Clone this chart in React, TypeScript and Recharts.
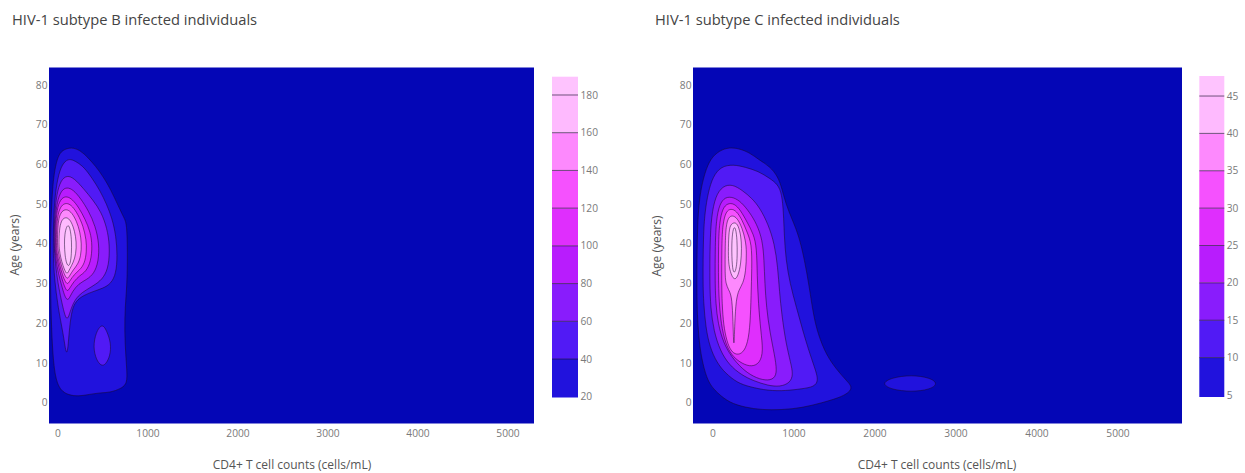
import React from 'react';
import { ScatterChart, Scatter, XAxis, YAxis, CartesianGrid, ReferenceArea, ReferenceLine } from 'recharts';

// Plotly3-like fill colours: background band, then one colour per contour band
const bandColors = ['#0406b6', '#2112dd', '#511af5', '#891cfc', '#b81cfd', '#df2efd', '#f551fe', '#fd89fd', '#febafe', '#fec3fe'];
const lineColor = 'rgba(25,10,45,0.75)';

const subtypeBLevels = [20, 40, 60, 80, 100, 120, 140, 160, 180];
const subtypeCLevels = [5, 10, 15, 20, 25, 30, 35, 40, 45];
const bColorbarRange = [19.6, 189.7];
const cColorbarRange = [4.73, 47.68];

const ageTicks = [0, 10, 20, 30, 40, 50, 60, 70, 80];
const cd4Ticks = [0, 1000, 2000, 3000, 4000, 5000];
const ageDomain = [-5.24, 84.41];
const bCd4Domain = [-100, 5289];
const cCd4Domain = [-247, 5790];

// ---- Subtype B contour outlines: [CD4 count, age] ----
const bL20 = [[-80, 45], [-62, 54], [-35, 59], [0, 62], [45, 63.6], [150, 64.4], [250, 63.5], [330, 61.8], [420, 59.5], [500, 57], [590, 53.5], [670, 49.5], [735, 46.5], [765, 45], [772, 38], [768, 30], [745, 24], [740, 18], [752, 12], [770, 7], [760, 4.5], [690, 3.5], [590, 2.6], [470, 2.5], [350, 2.1], [230, 1.6], [120, 1.9], [30, 3], [-30, 6], [-62, 13], [-80, 24], [-86, 35]];
const bL40 = [[-52, 40], [-50, 47], [-25, 54], [20, 58.8], [80, 61], [140, 61.4], [210, 60.6], [290, 59.3], [380, 56.5], [467, 53.4], [540, 50], [600, 46.5], [645, 42], [660, 37], [645, 32.5], [590, 30], [500, 28.8], [390, 28], [280, 27], [200, 25.6], [155, 23.5], [128, 19], [112, 14], [98, 12.3], [82, 13.5], [60, 17], [30, 20.5], [-5, 25], [-35, 30.5], [-50, 35]];
const bIsland40 = [[490, 20], [540, 18.2], [590, 15], [580, 11.8], [530, 9.6], [480, 9.2], [425, 10.8], [390, 14], [420, 17.7]];
const bL60 = [[-45, 40], [-40, 47], [-15, 52.5], [30, 56], [100, 57.3], [180, 56.5], [280, 54], [390, 51], [480, 48], [545, 44], [575, 39.5], [565, 34.5], [510, 31.5], [420, 29.8], [320, 28.5], [220, 27], [155, 24.5], [118, 21.5], [95, 21], [70, 22.5], [35, 26], [0, 30], [-30, 35]];
const bL80 = [[-38, 40], [-32, 46.5], [-10, 50.5], [35, 53.5], [100, 54.3], [170, 53.6], [250, 51.5], [340, 48.3], [415, 44.5], [458, 40], [450, 35.5], [400, 32.5], [320, 31], [230, 30], [160, 28], [125, 26.2], [100, 25.8], [72, 27], [40, 29.5], [5, 32.5], [-25, 36]];
const bL100 = [[-30, 40], [-25, 45.5], [-5, 49.5], [40, 51.6], [100, 52], [160, 51.2], [230, 49.2], [300, 46.3], [360, 43], [382, 39.5], [365, 35.5], [310, 33], [240, 32], [175, 30.5], [130, 28.8], [105, 28], [80, 28.8], [45, 31], [10, 34], [-18, 37]];
const bL120 = [[-20, 40], [-15, 44.8], [5, 48.3], [50, 50], [105, 50.3], [160, 49.5], [220, 47.5], [280, 44.5], [315, 41], [318, 38], [295, 35], [240, 33.4], [180, 32.3], [135, 30.8], [108, 29.8], [85, 30.3], [50, 32], [15, 35], [-10, 37.5]];
const bL140 = [[-8, 40], [-3, 44.5], [15, 47.2], [55, 48.5], [105, 48.7], [155, 47.8], [205, 45.8], [245, 43], [262, 40], [255, 37], [220, 34.8], [170, 33.5], [130, 32], [108, 31.2], [85, 31.6], [55, 33.2], [25, 35.5], [3, 38]];
const bL160 = [[10, 40], [14, 43.5], [35, 45.8], [70, 46.6], [110, 46.6], [150, 45.5], [185, 43.2], [205, 40.5], [200, 37.5], [170, 35.3], [130, 33.7], [105, 32.4], [85, 32.8], [55, 34.5], [30, 36.5], [15, 38.5]];
const bL180 = [[70, 40], [75, 42.5], [95, 44.4], [120, 44.8], [140, 43.2], [152, 40.5], [150, 37.5], [138, 35.2], [118, 34.3], [95, 35], [78, 37]];

// ---- Subtype C contour outlines: [CD4 count, age] ----
const cL5 = [[-200, 30], [-195, 45], [-160, 53], [-100, 58], [-30, 61.5], [80, 63.5], [200, 64.3], [320, 64], [450, 63], [580, 61], [700, 59.5], [800, 57], [850, 54], [900, 50], [980, 46], [1060, 42], [1130, 36], [1190, 29], [1240, 22], [1300, 17], [1400, 12], [1520, 8.5], [1650, 5.5], [1720, 4], [1680, 2.5], [1550, 1.2], [1350, 0], [1100, -1.3], [850, -1.8], [600, -1.8], [400, -1.2], [200, 0], [50, 2.5], [-60, 5], [-130, 10], [-170, 15], [-195, 22]];
const cIsland5 = [[2080, 4.8], [2200, 6.3], [2450, 7], [2680, 6.3], [2780, 4.8], [2680, 3.3], [2450, 2.7], [2200, 3.3]];
const cL10 = [[-125, 30], [-120, 42], [-100, 48], [-60, 53], [0, 57], [100, 59.5], [250, 60], [400, 59.3], [560, 58.3], [700, 56.5], [800, 55], [850, 52.5], [870, 48], [880, 42], [900, 36], [950, 30], [1030, 24], [1110, 18], [1200, 12], [1270, 8], [1300, 5.5], [1250, 4], [1100, 3.5], [900, 3], [680, 3], [450, 4], [300, 5], [150, 7.5], [50, 10], [-40, 14], [-90, 19], [-115, 25]];
const cL15 = [[-40, 30], [-38, 40], [-20, 47], [30, 52], [120, 54.6], [240, 55], [360, 53.5], [480, 51.5], [580, 49], [680, 45], [760, 40], [800, 34], [820, 28], [850, 22], [900, 15], [960, 10], [990, 7], [950, 5], [830, 4], [680, 4.3], [500, 5.5], [350, 7], [200, 9.5], [90, 13], [10, 18], [-30, 24]];
const cL20 = [[25, 30], [27, 40], [40, 46], [80, 50], [150, 51.8], [250, 51.8], [350, 50.5], [450, 48], [540, 45], [610, 41], [630, 36], [640, 30], [660, 24], [700, 18], [760, 12], [790, 8], [760, 6], [650, 5.5], [500, 6.5], [360, 8.5], [230, 11.5], [130, 15], [60, 20], [35, 25]];
const cL25 = [[66, 30], [67, 40], [80, 45.5], [120, 49], [180, 50.2], [260, 50.2], [340, 48.5], [420, 45.5], [500, 42.5], [540, 39], [545, 32], [560, 25], [590, 18], [620, 13], [580, 10], [480, 9], [360, 9.8], [250, 11.5], [170, 14], [110, 18.5], [80, 24]];
const cL30 = [[107, 30], [108, 40], [120, 45], [160, 48.2], [220, 48.9], [290, 48.3], [360, 46], [420, 43], [478, 40], [480, 34], [470, 27], [460, 20], [430, 15], [370, 12.5], [290, 12], [220, 13], [170, 15.5], [130, 19.5], [112, 25]];
const cL35 = [[148, 32], [150, 40], [160, 44.5], [190, 46.7], [240, 47.2], [300, 46.5], [360, 44], [400, 41], [416, 38], [405, 33], [370, 30], [320, 28.5], [285, 26], [268, 20], [260, 14], [252, 16], [245, 22], [230, 27], [190, 28.5], [160, 30]];
const cL40 = [[189, 36], [190, 40], [200, 44], [230, 45.1], [270, 45.4], [310, 44.8], [345, 42], [354, 39], [345, 35], [310, 32], [275, 31], [240, 31.5], [205, 33.5]];
const cL45 = [[230, 38], [235, 42], [255, 44.3], [280, 44], [298, 41], [300, 37], [290, 34], [265, 32.5], [240, 33.5]];

type Contour = { band: number; pts: number[][] };
const bContours: Contour[] = [
  { band: 1, pts: bL20 }, { band: 2, pts: bL40 }, { band: 2, pts: bIsland40 }, { band: 3, pts: bL60 },
  { band: 4, pts: bL80 }, { band: 5, pts: bL100 }, { band: 6, pts: bL120 }, { band: 7, pts: bL140 },
  { band: 8, pts: bL160 }, { band: 9, pts: bL180 },
];
const cContours: Contour[] = [
  { band: 1, pts: cL5 }, { band: 1, pts: cIsland5 }, { band: 2, pts: cL10 }, { band: 3, pts: cL15 },
  { band: 4, pts: cL20 }, { band: 5, pts: cL25 }, { band: 6, pts: cL30 }, { band: 7, pts: cL35 },
  { band: 8, pts: cL40 }, { band: 9, pts: cL45 },
];

const toPts = (arr: number[][]) => arr.map(([x, y]) => ({ x, y }));
const noShape = () => <g />;
const FONT = '"Open Sans", "DejaVu Sans", sans-serif';
const tickStyle = { fontSize: 10.2, fill: '#7a7a7a', fontFamily: FONT };

function ContourPanel(props: { left: number; yAxisWidth: number; rightMargin: number; xDomain: number[]; contours: Contour[] }) {
  const { left, yAxisWidth, rightMargin, xDomain, contours } = props;
  return (
    <div style={{ position: 'absolute', left, top: 0 }}>
      <ScatterChart width={545} height={473} margin={{ top: 67.5, right: rightMargin, bottom: 0, left: 0 }}>
        <CartesianGrid fill={bandColors[0]} horizontal={false} vertical={false} stroke="none" />
        <XAxis type="number" dataKey="x" domain={xDomain} allowDataOverflow ticks={cd4Ticks} interval={0}
          height={49.5} tickLine={false} axisLine={false} tickSize={0} tickMargin={6} tick={tickStyle} />
        <YAxis type="number" dataKey="y" domain={ageDomain} allowDataOverflow ticks={ageTicks} interval={0}
          width={yAxisWidth} tickLine={false} axisLine={false} tickSize={0} tickMargin={1.5} tick={tickStyle} />
        {contours.map((c, i) => (
          <Scatter key={i} data={toPts(c.pts)} shape={noShape} fill="none"
            line={{ fill: bandColors[c.band], stroke: lineColor, strokeWidth: 0.7 }}
            lineJointType="basisClosed" isAnimationActive={false} />
        ))}
      </ScatterChart>
    </div>
  );
}

function Colorbar(props: { left: number; width: number; marginLeft: number; axisWidth: number; top: number; bottom: number; range: number[]; levels: number[] }) {
  const { left, width, marginLeft, axisWidth, top, bottom, range, levels } = props;
  const edges = [range[0], ...levels.slice(1), range[1]];
  const bands = edges.slice(0, -1).map((lo, i) => ({ lo, hi: edges[i + 1] }));
  return (
    <div style={{ position: 'absolute', left, top: 0 }}>
      <ScatterChart width={width} height={473} margin={{ top, right: 0, bottom: 473 - bottom, left: marginLeft }}>
        <XAxis type="number" dataKey="x" domain={[0, 1]} hide />
        <YAxis type="number" dataKey="y" orientation="right" domain={range} allowDataOverflow ticks={levels} interval={0}
          width={axisWidth} tickLine={false} axisLine={false} tickSize={0} tickMargin={2.5}
          tick={{ ...tickStyle, textAnchor: 'start' }} />
        {bands.map((b, i) => (
          <ReferenceArea key={'a' + i} x1={0} x2={1} y1={b.lo} y2={b.hi} fill={bandColors[i + 1]} fillOpacity={1} stroke="none" ifOverflow="extendDomain" />
        ))}
        {levels.slice(1).map((lv) => (
          <ReferenceLine key={'l' + lv} y={lv} stroke="rgba(30,20,50,0.8)" strokeWidth={0.8} />
        ))}
        <Scatter data={bands.map((b) => ({ x: 0.5, y: (b.lo + b.hi) / 2 }))} shape={noShape} isAnimationActive={false} />
      </ScatterChart>
    </div>
  );
}

export default function App() {
  const titleStyle = { fontFamily: FONT, fontSize: 14.7, fill: '#444' };
  const axisTitle = { fontFamily: FONT, fontSize: 12, fill: '#555' };
  return (
    <div style={{ position: 'absolute', left: 0, top: 0, width: 1245, height: 473, background: '#fff', fontFamily: FONT }}>
      <ContourPanel left={0} yAxisWidth={49} rightMargin={11} xDomain={bCd4Domain} contours={bContours} />
      <ContourPanel left={640} yAxisWidth={53} rightMargin={3} xDomain={cCd4Domain} contours={cContours} />
      <Colorbar left={540} width={80} marginLeft={12} axisWidth={42} top={76.7} bottom={397.5} range={bColorbarRange} levels={subtypeBLevels} />
      <Colorbar left={1187} width={58} marginLeft={12.3} axisWidth={20.7} top={76} bottom={397} range={cColorbarRange} levels={subtypeCLevels} />
      <svg width={1245} height={473} style={{ position: 'absolute', left: 0, top: 0, pointerEvents: 'none' }}>
        <text x={12} y={25} {...titleStyle}>HIV-1 subtype B infected individuals</text>
        <text x={655} y={25} {...titleStyle}>HIV-1 subtype C infected individuals</text>
        <text x={292} y={469} textAnchor="middle" {...axisTitle}>CD4+ T cell counts (cells/mL)</text>
        <text x={937} y={469} textAnchor="middle" {...axisTitle}>CD4+ T cell counts (cells/mL)</text>
        <text x={19} y={245} textAnchor="middle" transform="rotate(-90 19 245)" {...axisTitle}>Age (years)</text>
        <text x={661} y={246} textAnchor="middle" transform="rotate(-90 661 246)" {...axisTitle}>Age (years)</text>
      </svg>
    </div>
  );
}
